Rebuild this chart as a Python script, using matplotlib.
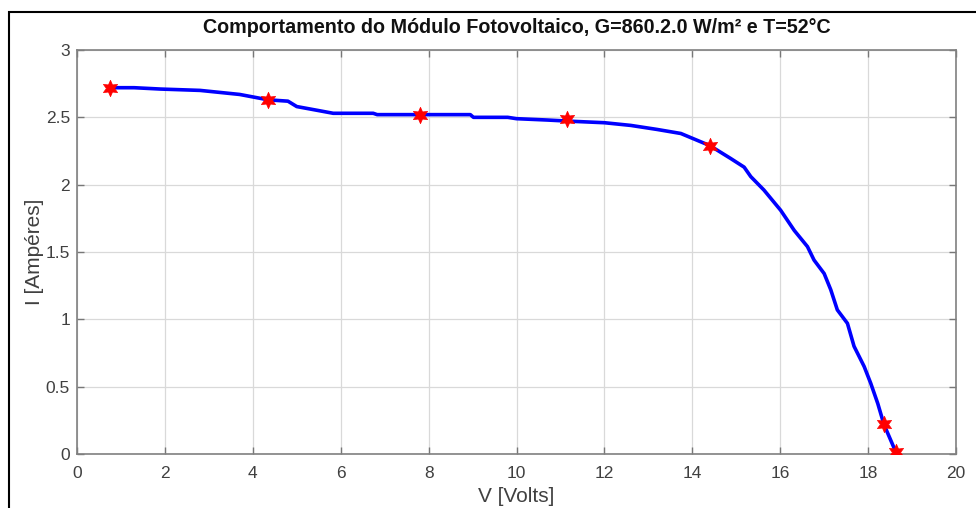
import matplotlib
matplotlib.use("Agg")
import matplotlib.pyplot as plt
from matplotlib.patches import Rectangle

plt.rcParams['font.family'] = ['Liberation Sans', 'DejaVu Sans']

# Curve data (V, I)
V_curve = [0.75, 1.3, 1.9, 2.8, 3.7, 4.35, 4.8, 5.0, 5.5, 5.83, 6.74, 6.83, 8.95, 9.02,
           9.8, 10.0, 10.7, 11.3, 12.0, 12.6, 13.2, 13.74, 14.4, 14.87, 15.18, 15.33,
           15.63, 16.01, 16.32, 16.62, 16.77, 17.0, 17.15, 17.3, 17.53, 17.68, 17.91,
           18.06, 18.22, 18.36, 18.63]
I_curve = [2.72, 2.72, 2.71, 2.70, 2.67, 2.63, 2.62, 2.58, 2.55, 2.53, 2.53, 2.52, 2.52, 2.50,
           2.50, 2.49, 2.48, 2.47, 2.46, 2.44, 2.41, 2.38, 2.29, 2.195, 2.13, 2.06,
           1.96, 1.81, 1.66, 1.54, 1.44, 1.34, 1.22, 1.07, 0.97, 0.80, 0.65,
           0.525, 0.375, 0.22, 0.015]

# Measured points
V_pts = [0.75, 4.35, 7.81, 11.14, 14.4, 18.36, 18.63]
I_pts = [2.72, 2.63, 2.52, 2.49, 2.29, 0.22, 0.015]

x_ticks = [0, 2, 4, 6, 8, 10, 12, 14, 16, 18, 20]
y_ticks = [0, 0.5, 1, 1.5, 2, 2.5, 3]
y_ticklabels = ['0', '0.5', '1', '1.5', '2', '2.5', '3']

title = 'Comportamento do Módulo Fotovoltaico, G=860.2.0 W/m² e T=52°C'

fig = plt.figure(figsize=(9.76, 5.08), dpi=100)
ax = fig.add_axes([77/976, 54/508, 879/976, 404/508])

ax.plot(V_curve, I_curve, color='#0000ff', lw=2.6, zorder=3)
ax.scatter(V_pts, I_pts, marker=(6, 1, 0), s=140, color='#ff0000', zorder=5, linewidths=0.5)

ax.set_xlim(0, 20)
ax.set_ylim(0, 3)
ax.set_xticks(x_ticks)
ax.set_yticks(y_ticks)
ax.set_yticklabels(y_ticklabels)
ax.grid(True, color='#d9d9d9', lw=0.9)
ax.set_axisbelow(True)
ax.tick_params(direction='in', top=True, right=True, length=5, width=1,
               color='#777777', labelcolor='#404040', labelsize=12.5)
ax.tick_params(axis='x', pad=9)
ax.tick_params(axis='y', pad=5)
for s in ax.spines.values():
    s.set_color('#808080')
    s.set_linewidth(1.2)

ax.set_xlabel('V [Volts]', fontsize=15, color='#404040', labelpad=4)
ax.set_ylabel('I [Ampéres]', fontsize=15, color='#404040', labelpad=1)
ax.set_title(title, fontsize=14.2, fontweight='bold', color='#111111', pad=12)

fig.patches.append(Rectangle((9/976, -0.05), 1.2, (508-12)/508 + 0.05,
                             transform=fig.transFigure, fill=False,
                             edgecolor='black', lw=1.5))

fig.savefig('out.png', dpi=100)
